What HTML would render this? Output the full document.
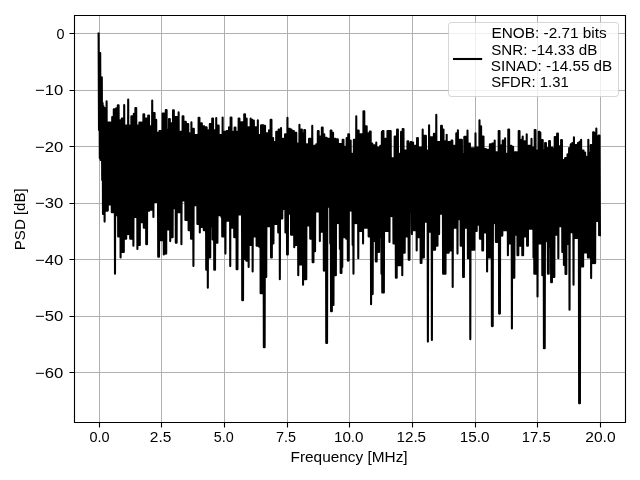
<!DOCTYPE html><html><head><meta charset="utf-8"><style>html,body{margin:0;padding:0;background:#fff;width:640px;height:480px;overflow:hidden}svg{display:block;will-change:transform}text{font-family:"Liberation Sans",sans-serif;fill:#000;font-size:13.89px}</style></head><body>
<svg width="640" height="480" viewBox="0 0 640 480">
<rect width="640" height="480" fill="#fff"/>
<path d="M99.5 15V422M161.5 15V422M224.5 15V422M287.5 15V422M349.5 15V422M412.5 15V422M475.5 15V422M537.5 15V422M600.5 15V422M74 33.5H625M74 90.5H625M74 146.5H625M74 203.5H625M74 259.5H625M74 316.5H625M74 372.5H625" stroke="#b0b0b0" stroke-width="1" fill="none" shape-rendering="crispEdges"/>
<path d="M98.59 33.5 98.99 130.0 99.39 53.0 99.80 158.0 100.20 53.0 100.60 160.0 101.00 77.3 101.40 160.0 101.80 77.3 102.20 180.0 102.60 103.0 103.00 214.0 103.40 106.0 103.80 214.0 104.20 108.0 104.60 221.6 105.00 108.0 105.40 210.6 105.80 108.0 106.20 210.6 106.60 101.4 107.00 210.6 107.40 122.5 107.80 210.6 108.20 122.5 108.60 204.4 109.00 122.5 109.40 204.4 109.80 122.5 110.20 204.4 110.60 122.5 111.00 204.4 111.40 122.5 111.80 212.2 112.20 117.0 112.60 212.2 113.00 117.0 113.40 212.2 113.80 109.2 114.20 212.2 114.60 109.2 115.00 273.8 115.40 109.2 115.80 215.3 116.20 108.4 116.60 215.3 117.00 108.4 117.40 215.3 117.80 105.3 118.20 236.4 118.60 105.3 119.00 236.4 119.40 120.2 119.80 236.4 120.20 120.2 120.60 257.5 121.00 120.2 121.40 252.0 121.80 118.6 122.20 252.0 122.60 118.6 123.00 252.0 123.40 118.6 123.80 252.0 124.20 105.0 124.60 238.8 125.00 125.6 125.40 238.8 125.80 125.6 126.20 238.8 126.60 125.6 127.00 234.1 127.40 125.6 127.80 234.1 128.20 99.5 128.60 234.1 129.00 125.6 129.40 234.1 129.80 125.6 130.20 238.8 130.60 125.6 131.00 238.8 131.40 116.2 131.80 238.8 132.20 116.2 132.60 238.8 133.00 116.2 133.40 245.8 133.80 113.9 134.20 216.9 134.60 113.9 135.00 216.9 135.40 108.0 135.80 216.9 136.21 108.0 136.61 216.9 137.01 125.6 137.41 248.9 137.81 125.6 138.21 245.0 138.61 125.6 139.01 245.0 139.41 122.5 139.81 245.0 140.21 122.5 140.61 222.3 141.01 122.5 141.41 222.3 141.81 122.5 142.21 222.3 142.61 122.5 143.01 222.3 143.41 114.4 143.81 227.8 144.21 114.4 144.61 227.8 145.01 118.6 145.41 227.8 145.81 118.6 146.21 244.2 146.61 118.6 147.01 244.2 147.41 118.6 147.81 210.6 148.21 115.5 148.61 210.6 149.01 115.5 149.41 210.6 149.81 126.4 150.21 209.8 150.61 126.4 151.01 209.8 151.41 126.4 151.81 209.8 152.21 100.6 152.61 209.8 153.01 113.1 153.41 216.9 153.81 113.1 154.21 202.0 154.61 113.1 155.01 202.0 155.41 119.7 155.81 202.0 156.21 119.7 156.61 202.0 157.01 132.7 157.41 202.0 157.81 132.7 158.21 256.7 158.61 132.7 159.01 256.7 159.41 131.1 159.81 240.3 160.21 131.1 160.61 240.3 161.01 131.1 161.41 240.3 161.81 131.1 162.21 240.3 162.61 113.6 163.01 240.3 163.41 113.6 163.81 254.4 164.21 113.6 164.61 253.6 165.01 113.6 165.41 253.6 165.81 110.0 166.21 253.6 166.61 110.0 167.01 229.4 167.41 129.5 167.81 229.4 168.21 129.5 168.61 229.4 169.01 119.1 169.41 229.4 169.81 119.1 170.21 241.1 170.61 123.3 171.01 237.2 171.41 123.3 171.81 237.2 172.22 123.3 172.62 237.2 173.02 110.3 173.42 208.3 173.82 110.3 174.22 208.3 174.62 117.0 175.02 208.3 175.42 117.0 175.82 242.7 176.22 117.0 176.62 242.7 177.02 117.0 177.42 212.2 177.82 117.0 178.22 212.2 178.62 112.3 179.02 212.2 179.42 131.9 179.82 212.2 180.22 131.9 180.62 212.2 181.02 131.9 181.42 244.2 181.82 131.9 182.22 200.5 182.62 116.2 183.02 200.5 183.42 116.2 183.82 200.5 184.22 121.7 184.62 200.5 185.02 121.7 185.42 220.0 185.82 121.7 186.22 220.0 186.62 124.1 187.02 220.0 187.42 124.1 187.82 220.0 188.22 124.1 188.62 230.2 189.02 133.4 189.42 230.2 189.82 133.4 190.22 230.2 190.62 133.4 191.02 238.8 191.42 122.2 191.82 238.8 192.22 128.8 192.62 238.8 193.02 128.8 193.42 265.9 193.82 128.8 194.22 205.2 194.62 135.0 195.02 205.2 195.42 135.0 195.82 205.2 196.22 135.0 196.62 205.2 197.02 135.0 197.42 223.9 197.82 135.0 198.22 223.9 198.62 117.8 199.02 223.9 199.42 117.8 199.82 232.5 200.22 123.3 200.62 227.0 201.02 123.3 201.42 227.0 201.82 123.3 202.22 227.0 202.62 126.4 203.02 227.0 203.42 126.4 203.82 230.2 204.22 126.4 204.62 230.2 205.02 127.2 205.42 230.2 205.82 127.2 206.22 269.8 206.62 127.2 207.02 269.8 207.42 130.3 207.82 287.8 208.22 130.3 208.63 257.5 209.03 130.3 209.43 257.5 209.83 124.1 210.23 257.5 210.63 124.1 211.03 226.2 211.43 124.1 211.83 226.2 212.23 118.6 212.63 239.5 213.03 118.6 213.43 239.5 213.83 130.3 214.23 269.8 214.63 130.3 215.03 269.8 215.43 130.3 215.83 242.7 216.23 118.1 216.63 242.7 217.03 125.6 217.43 242.7 217.83 125.6 218.23 215.3 218.63 125.6 219.03 215.3 219.43 135.0 219.83 215.3 220.23 135.0 220.63 215.3 221.03 135.0 221.43 216.9 221.83 135.0 222.23 236.4 222.63 117.5 223.03 236.4 223.43 131.9 223.83 236.4 224.23 131.9 224.63 236.4 225.03 131.9 225.43 253.6 225.83 131.9 226.23 220.8 226.63 131.1 227.03 220.8 227.43 131.1 227.83 220.8 228.23 131.1 228.63 220.8 229.03 127.2 229.43 220.8 229.83 127.2 230.23 266.1 230.63 117.5 231.03 227.8 231.43 117.5 231.83 227.8 232.23 131.9 232.63 227.8 233.03 131.9 233.43 227.8 233.83 131.9 234.23 237.2 234.63 127.5 235.03 237.2 235.43 127.5 235.83 237.2 236.23 131.9 236.63 269.2 237.03 131.9 237.43 269.2 237.83 131.9 238.23 214.5 238.63 118.6 239.03 214.5 239.43 118.6 239.83 214.5 240.23 122.2 240.63 214.5 241.03 122.2 241.43 214.5 241.83 122.2 242.23 300.3 242.63 122.2 243.03 300.3 243.43 122.2 243.83 259.1 244.23 114.4 244.64 259.1 245.04 114.4 245.44 259.1 245.84 118.6 246.24 260.6 246.64 118.6 247.04 260.6 247.44 127.2 247.84 260.6 248.24 127.2 248.64 266.9 249.04 127.2 249.44 245.0 249.84 127.2 250.24 245.0 250.64 118.6 251.04 245.0 251.44 119.7 251.84 245.0 252.24 119.7 252.64 271.4 253.04 120.6 253.44 236.4 253.84 120.6 254.24 236.4 254.64 127.2 255.04 236.4 255.44 127.2 255.84 236.4 256.24 127.2 256.64 245.8 257.04 127.2 257.44 245.8 257.84 120.2 258.24 245.8 258.64 135.0 259.04 246.6 259.44 135.0 259.84 246.6 260.24 135.0 260.64 293.3 261.04 125.3 261.44 293.3 261.84 125.3 262.24 293.3 262.64 125.3 263.04 293.3 263.44 125.3 263.84 347.2 264.24 125.9 264.64 347.2 265.04 125.9 265.44 276.9 265.84 133.4 266.24 276.9 266.64 133.4 267.04 226.2 267.44 133.4 267.84 226.2 268.24 133.4 268.64 226.2 269.04 130.3 269.44 226.2 269.84 130.3 270.24 226.2 270.64 119.7 271.04 257.5 271.44 119.7 271.84 257.5 272.24 138.1 272.64 243.4 273.04 138.1 273.44 243.4 273.84 142.0 274.24 223.9 274.64 142.0 275.04 223.9 275.44 142.0 275.84 223.9 276.24 131.9 276.64 223.9 277.04 131.9 277.44 223.9 277.84 131.9 278.24 232.5 278.64 129.5 279.04 232.5 279.44 129.5 279.84 279.2 280.24 129.5 280.64 218.4 281.05 128.0 281.45 218.4 281.85 138.9 282.25 218.4 282.65 138.9 283.05 209.1 283.45 138.9 283.85 209.1 284.25 138.9 284.65 209.1 285.05 134.2 285.45 232.5 285.85 134.2 286.25 232.5 286.65 134.2 287.05 254.4 287.45 117.8 287.85 254.4 288.25 128.8 288.65 213.8 289.05 128.8 289.45 213.8 289.85 128.8 290.25 213.8 290.65 129.5 291.05 234.8 291.45 129.5 291.85 234.8 292.25 131.1 292.65 234.8 293.05 131.1 293.45 234.8 293.85 131.1 294.25 247.3 294.65 132.7 295.05 245.0 295.45 132.7 295.85 245.0 296.25 132.7 296.65 245.0 297.05 143.6 297.45 245.0 297.85 143.6 298.25 275.3 298.65 143.6 299.05 264.5 299.45 124.8 299.85 264.5 300.25 129.5 300.65 264.5 301.05 129.5 301.45 264.5 301.85 129.5 302.25 264.5 302.65 133.4 303.05 284.7 303.45 133.4 303.85 279.2 304.25 130.0 304.65 279.2 305.05 130.0 305.45 279.2 305.85 144.4 306.25 279.2 306.65 144.4 307.05 225.5 307.45 144.4 307.85 225.5 308.25 144.4 308.65 225.5 309.05 138.9 309.45 225.5 309.85 138.9 310.25 238.8 310.65 138.9 311.05 238.8 311.45 138.9 311.85 238.8 312.25 125.9 312.65 262.2 313.05 145.9 313.45 262.2 313.85 145.9 314.25 251.2 314.65 145.9 315.05 251.2 315.45 145.9 315.85 211.4 316.25 144.4 316.65 211.4 317.06 144.4 317.46 211.4 317.86 131.1 318.26 211.4 318.66 131.1 319.06 211.4 319.46 136.6 319.86 241.1 320.26 136.6 320.66 231.7 321.06 136.6 321.46 231.7 321.86 127.5 322.26 231.7 322.66 127.5 323.06 231.7 323.46 134.2 323.86 270.6 324.26 134.2 324.66 270.6 325.06 137.8 325.46 270.6 325.86 137.8 326.26 343.0 326.66 137.8 327.06 343.0 327.46 138.9 327.86 206.7 328.26 138.9 328.66 206.7 329.06 138.9 329.46 206.7 329.86 138.9 330.26 243.4 330.66 130.6 331.06 311.2 331.46 130.6 331.86 311.2 332.26 132.7 332.66 305.0 333.06 132.7 333.46 305.0 333.86 138.9 334.26 275.3 334.66 138.9 335.06 275.3 335.46 138.9 335.86 275.3 336.26 139.4 336.66 223.1 337.06 139.4 337.46 223.1 337.86 139.4 338.26 223.1 338.66 144.1 339.06 223.1 339.46 144.1 339.86 248.9 340.26 144.1 340.66 273.0 341.06 144.1 341.46 273.0 341.86 144.1 342.26 266.9 342.66 139.7 343.06 237.2 343.46 139.7 343.86 237.2 344.26 146.7 344.66 237.2 345.06 146.7 345.46 237.2 345.86 146.7 346.26 238.8 346.66 138.1 347.06 238.8 347.46 138.1 347.86 260.6 348.26 134.2 348.66 260.6 349.06 134.2 349.46 210.6 349.86 140.5 350.26 210.6 350.66 140.5 351.06 210.6 351.46 153.8 351.86 210.6 352.26 153.8 352.66 245.0 353.06 153.8 353.47 273.8 353.87 139.7 354.27 223.1 354.67 139.7 355.07 223.1 355.47 139.7 355.87 223.1 356.27 116.2 356.67 223.1 357.07 130.6 357.47 223.1 357.87 130.6 358.27 258.3 358.67 130.6 359.07 230.9 359.47 134.2 359.87 230.9 360.27 134.2 360.67 230.9 361.07 134.2 361.47 230.9 361.87 134.2 362.27 230.9 362.67 134.2 363.07 243.4 363.47 111.2 363.87 227.8 364.27 111.2 364.67 227.8 365.07 126.4 365.47 227.8 365.87 126.4 366.27 227.8 366.67 126.4 367.07 227.8 367.47 133.4 367.87 227.8 368.27 133.4 368.67 236.4 369.07 133.4 369.47 236.4 369.87 131.6 370.27 236.4 370.67 131.6 371.07 304.2 371.47 143.6 371.87 294.1 372.27 143.6 372.67 294.1 373.07 145.2 373.47 241.1 373.87 145.2 374.27 241.1 374.67 145.2 375.07 241.1 375.47 145.2 375.87 261.4 376.27 142.5 376.67 261.4 377.07 147.5 377.47 252.0 377.87 147.5 378.27 252.0 378.67 147.5 379.07 252.0 379.47 147.5 379.87 237.2 380.27 145.9 380.67 237.2 381.07 145.9 381.47 273.8 381.87 131.9 382.27 292.5 382.67 131.1 383.07 292.5 383.47 131.1 383.87 292.5 384.27 138.9 384.67 230.9 385.07 138.9 385.47 230.9 385.87 138.9 386.27 230.9 386.67 138.9 387.07 230.9 387.47 131.1 387.87 230.9 388.27 131.1 388.67 230.9 389.07 131.1 389.48 241.9 389.88 131.1 390.28 216.1 390.68 131.1 391.08 216.1 391.48 158.4 391.88 216.1 392.28 158.4 392.68 216.1 393.08 158.4 393.48 243.4 393.88 158.4 394.28 243.4 394.68 136.6 395.08 243.4 395.48 136.6 395.88 277.7 396.28 136.6 396.68 277.7 397.08 129.5 397.48 265.3 397.88 129.5 398.28 265.3 398.68 153.8 399.08 265.3 399.48 153.8 399.88 265.3 400.28 153.8 400.68 265.3 401.08 131.9 401.48 265.3 401.88 131.9 402.28 275.3 402.68 129.1 403.08 252.8 403.48 129.1 403.88 252.8 404.28 150.6 404.68 252.8 405.08 150.6 405.48 236.4 405.88 150.6 406.28 236.4 406.68 150.6 407.08 236.4 407.48 141.2 407.88 236.4 408.28 141.2 408.68 259.8 409.08 143.6 409.48 259.8 409.88 143.6 410.28 211.4 410.68 142.0 411.08 211.4 411.48 142.0 411.88 234.1 412.28 142.5 412.68 230.2 413.08 142.5 413.48 230.2 413.88 145.9 414.28 230.2 414.68 145.9 415.08 230.2 415.48 145.9 415.88 230.2 416.28 145.9 416.68 250.5 417.08 138.1 417.48 237.2 417.88 138.1 418.28 237.2 418.68 147.5 419.08 237.2 419.48 147.5 419.88 237.2 420.28 147.5 420.68 263.0 421.08 147.5 421.48 263.0 421.88 147.5 422.28 257.5 422.68 129.5 423.08 257.5 423.48 135.8 423.88 257.5 424.28 135.8 424.68 221.6 425.08 135.8 425.48 221.6 425.89 135.8 426.29 221.6 426.69 150.6 427.09 221.6 427.49 150.6 427.89 341.6 428.29 150.6 428.69 231.7 429.09 125.3 429.49 231.7 429.89 137.3 430.29 231.7 430.69 137.3 431.09 231.7 431.49 137.3 431.89 340.0 432.29 137.3 432.69 249.7 433.09 137.3 433.49 249.7 433.89 133.8 434.29 249.7 434.69 133.8 435.09 249.7 435.49 133.8 435.89 245.8 436.29 114.7 436.69 245.8 437.09 142.0 437.49 245.8 437.89 142.0 438.29 234.1 438.69 142.0 439.09 234.1 439.49 142.0 439.89 213.8 440.29 142.0 440.69 213.8 441.09 125.9 441.49 213.8 441.89 125.9 442.29 213.8 442.69 129.5 443.09 273.8 443.49 129.5 443.89 273.8 444.29 141.2 444.69 273.8 445.09 141.2 445.49 273.8 445.89 141.2 446.29 252.8 446.69 134.7 447.09 252.8 447.49 142.0 447.89 252.8 448.29 142.0 448.69 252.8 449.09 142.0 449.49 250.5 449.89 142.0 450.29 250.5 450.69 142.0 451.09 250.5 451.49 140.5 451.89 250.5 452.29 140.5 452.69 287.0 453.09 145.9 453.49 227.8 453.89 145.9 454.29 227.8 454.69 145.9 455.09 227.8 455.49 145.9 455.89 227.8 456.29 133.4 456.69 227.8 457.09 133.4 457.49 253.6 457.89 130.3 458.29 219.2 458.69 139.7 459.09 219.2 459.49 139.7 459.89 219.2 460.29 139.7 460.69 245.8 461.09 139.7 461.49 245.8 461.89 139.7 462.30 245.8 462.70 153.8 463.10 276.9 463.50 153.8 463.90 276.9 464.30 136.9 464.70 227.8 465.10 136.9 465.50 227.8 465.90 136.9 466.30 227.8 466.70 136.9 467.10 227.8 467.50 130.6 467.90 258.3 468.30 143.6 468.70 258.3 469.10 143.6 469.50 258.3 469.90 143.6 470.30 339.2 470.70 148.3 471.10 249.7 471.50 148.3 471.90 249.7 472.30 148.3 472.70 249.7 473.10 148.3 473.50 249.7 473.90 148.3 474.30 249.7 474.70 148.3 475.10 230.9 475.50 133.4 475.90 230.9 476.30 147.5 476.70 230.9 477.10 147.5 477.50 224.7 477.90 147.5 478.30 224.7 478.70 147.5 479.10 224.7 479.50 120.2 479.90 238.8 480.30 126.4 480.70 238.8 481.10 126.4 481.50 238.8 481.90 136.6 482.30 250.5 482.70 136.6 483.10 250.5 483.50 136.6 483.90 232.5 484.30 149.1 484.70 232.5 485.10 149.1 485.50 232.5 485.90 149.1 486.30 232.5 486.70 149.8 487.10 271.4 487.50 149.8 487.90 257.5 488.30 149.8 488.70 257.5 489.10 149.8 489.50 257.5 489.90 144.4 490.30 257.5 490.70 144.4 491.10 257.5 491.50 144.4 491.90 326.1 492.30 143.6 492.70 326.1 493.10 143.6 493.50 223.1 493.90 143.6 494.30 223.1 494.70 140.5 495.10 223.1 495.50 152.2 495.90 241.9 496.30 152.2 496.70 241.9 497.10 152.2 497.50 241.9 497.90 152.2 498.31 241.9 498.71 131.1 499.11 313.6 499.51 131.1 499.91 313.6 500.31 145.2 500.71 235.6 501.11 145.2 501.51 235.6 501.91 145.2 502.31 235.6 502.71 140.5 503.11 230.2 503.51 140.5 503.91 230.2 504.31 140.5 504.71 230.2 505.11 138.4 505.51 230.2 505.91 153.8 506.31 230.2 506.71 153.8 507.11 230.2 507.51 153.8 507.91 255.2 508.31 129.5 508.71 243.4 509.11 129.5 509.51 243.4 509.91 145.9 510.31 243.4 510.71 145.9 511.11 243.4 511.51 145.9 511.91 328.4 512.31 146.7 512.71 277.7 513.11 146.7 513.51 277.7 513.91 152.2 514.31 277.7 514.71 152.2 515.11 234.8 515.51 152.2 515.91 234.8 516.31 152.2 516.71 234.8 517.11 152.2 517.51 255.2 517.91 152.2 518.31 255.2 518.71 131.1 519.11 245.8 519.51 131.1 519.91 245.8 520.31 139.7 520.71 245.8 521.11 139.7 521.51 245.8 521.91 139.7 522.31 255.2 522.71 136.6 523.11 255.2 523.51 141.2 523.91 236.4 524.31 141.2 524.71 236.4 525.11 141.2 525.51 236.4 525.91 141.2 526.31 236.4 526.71 134.2 527.11 245.8 527.51 145.9 527.91 245.8 528.31 145.9 528.71 228.6 529.11 145.9 529.51 228.6 529.91 145.9 530.31 228.6 530.71 145.9 531.11 228.6 531.51 138.9 531.91 228.6 532.31 147.5 532.71 228.6 533.11 147.5 533.51 257.5 533.91 147.5 534.31 273.8 534.72 130.0 535.12 273.8 535.52 130.0 535.92 273.8 536.32 150.6 536.72 273.8 537.12 150.6 537.52 296.4 537.92 150.6 538.32 243.4 538.72 131.9 539.12 243.4 539.52 131.9 539.92 243.4 540.32 132.5 540.72 243.4 541.12 140.0 541.52 243.4 541.92 140.0 542.32 275.3 542.72 140.0 543.12 275.3 543.52 150.0 543.92 348.3 544.32 150.0 544.72 348.3 545.12 143.1 545.52 241.1 545.92 143.1 546.32 241.1 546.72 148.1 547.12 241.1 547.52 148.1 547.92 273.8 548.32 148.1 548.72 273.8 549.12 141.0 549.52 246.6 549.92 141.0 550.32 246.6 550.72 147.5 551.12 282.3 551.52 147.5 551.92 282.3 552.32 147.5 552.72 276.9 553.12 148.8 553.52 276.9 553.92 148.8 554.32 276.9 554.72 137.1 555.12 234.8 555.52 137.1 555.92 234.8 556.32 137.1 556.72 234.8 557.12 133.5 557.52 234.8 557.92 133.5 558.32 258.3 558.72 146.2 559.12 226.2 559.52 146.2 559.92 226.2 560.32 146.2 560.72 226.2 561.12 140.0 561.52 226.2 561.92 140.0 562.32 252.0 562.72 160.0 563.12 241.9 563.52 160.0 563.92 264.9 564.32 160.0 564.72 265.3 565.12 158.1 565.52 273.9 565.92 158.1 566.32 273.9 566.72 158.1 567.12 244.0 567.52 154.4 567.92 244.0 568.32 154.4 568.72 244.0 569.12 148.1 569.52 309.7 569.92 148.1 570.32 232.3 570.73 144.4 571.13 232.3 571.53 144.4 571.93 232.3 572.33 143.1 572.73 232.3 573.13 143.1 573.53 284.7 573.93 137.2 574.33 238.0 574.73 145.0 575.13 238.0 575.53 145.0 575.93 238.0 576.33 145.0 576.73 238.0 577.13 145.0 577.53 238.0 577.93 143.1 578.33 238.0 578.73 143.1 579.13 403.3 579.53 141.9 579.93 403.3 580.33 141.9 580.73 266.4 581.13 139.8 581.53 266.4 581.93 150.6 582.33 266.4 582.73 150.6 583.13 266.4 583.53 150.6 583.93 252.5 584.33 152.5 584.73 252.5 585.13 152.5 585.53 252.5 585.93 156.9 586.33 252.5 586.73 156.9 587.13 252.5 587.53 156.9 587.93 257.4 588.33 139.8 588.73 257.4 589.13 152.5 589.53 257.4 589.93 152.5 590.33 257.4 590.73 145.0 591.13 278.1 591.53 145.0 591.93 263.1 592.33 145.0 592.73 263.1 593.13 132.2 593.53 263.1 593.93 132.2 594.33 263.1 594.73 133.1 595.13 263.1 595.53 133.1 595.93 209.1 596.33 128.5 596.73 221.0 597.13 136.2 597.53 221.0 597.93 136.2 598.33 221.0 598.73 135.6 599.13 235.3 599.53 135.6 599.93 235.3" stroke="#000" stroke-width="2.08" fill="none" stroke-linejoin="round" stroke-linecap="square"/>
<path d="M99.5 422.6V427.5M161.5 422.6V427.5M224.5 422.6V427.5M287.5 422.6V427.5M349.5 422.6V427.5M412.5 422.6V427.5M475.5 422.6V427.5M537.5 422.6V427.5M600.5 422.6V427.5M69.5 33.5H74.6M69.5 90.5H74.6M69.5 146.5H74.6M69.5 203.5H74.6M69.5 259.5H74.6M69.5 316.5H74.6M69.5 372.5H74.6" stroke="#000" stroke-width="1.11" fill="none"/>
<path d="M74.5 15.5H625.5V422.5H74.5Z" stroke="#000" stroke-width="1.11" fill="none" stroke-linecap="square"/>
<rect x="448.5" y="22.5" width="170" height="74" rx="2.8" ry="2.8" fill="#fff" fill-opacity="0.8" stroke="#cccccc" stroke-opacity="0.8" stroke-width="1.0"/>
<path d="M454 59H481.1" stroke="#000" stroke-width="2.08" stroke-linecap="square"/>
<text transform="translate(89.432 442.105) scale(1.0407 1.0600)">0.0</text>
<text transform="translate(149.867 442.105) scale(1.1150 1.0600)">2.5</text>
<text transform="translate(213.817 442.105) scale(1.0346 1.0600)">5.0</text>
<text transform="translate(275.977 442.105) scale(1.0360 1.0600)">7.5</text>
<text transform="translate(333.926 442.105) scale(1.0965 1.0600)">10.0</text>
<text transform="translate(396.526 442.105) scale(1.0929 1.0600)">12.5</text>
<text transform="translate(459.854 442.105) scale(1.1021 1.0600)">15.0</text>
<text transform="translate(521.827 442.105) scale(1.0678 1.0600)">17.5</text>
<text transform="translate(585.243 442.105) scale(1.1238 1.0600)">20.0</text>
<text transform="translate(56.399 39.004) scale(1.0377 1.0600)">0</text>
<text transform="translate(35.041 95.454) scale(1.1997 1.0600)">−10</text>
<text transform="translate(35.041 151.904) scale(1.1997 1.0600)">−20</text>
<text transform="translate(35.041 208.354) scale(1.1997 1.0600)">−30</text>
<text transform="translate(35.041 264.804) scale(1.1997 1.0600)">−40</text>
<text transform="translate(35.041 321.254) scale(1.1997 1.0600)">−50</text>
<text transform="translate(35.041 377.704) scale(1.1997 1.0600)">−60</text>
<text transform="translate(290.543 461.913) scale(1.1087 1.0600)">Frequency [MHz]</text>
<text transform="translate(25.187 250.180) rotate(-90) scale(1.0840 1.0600)">PSD [dB]</text>
<text transform="translate(491.511 38.309) scale(1.1063 1.0600)">ENOB: -2.71 bits</text>
<text transform="translate(491.165 54.620) scale(1.0928 1.0600)">SNR: -14.33 dB</text>
<text transform="translate(490.871 70.893) scale(1.1005 1.0600)">SINAD: -14.55 dB</text>
<text transform="translate(491.139 87.077) scale(1.0710 1.0600)">SFDR: 1.31</text>
</svg></body></html>
